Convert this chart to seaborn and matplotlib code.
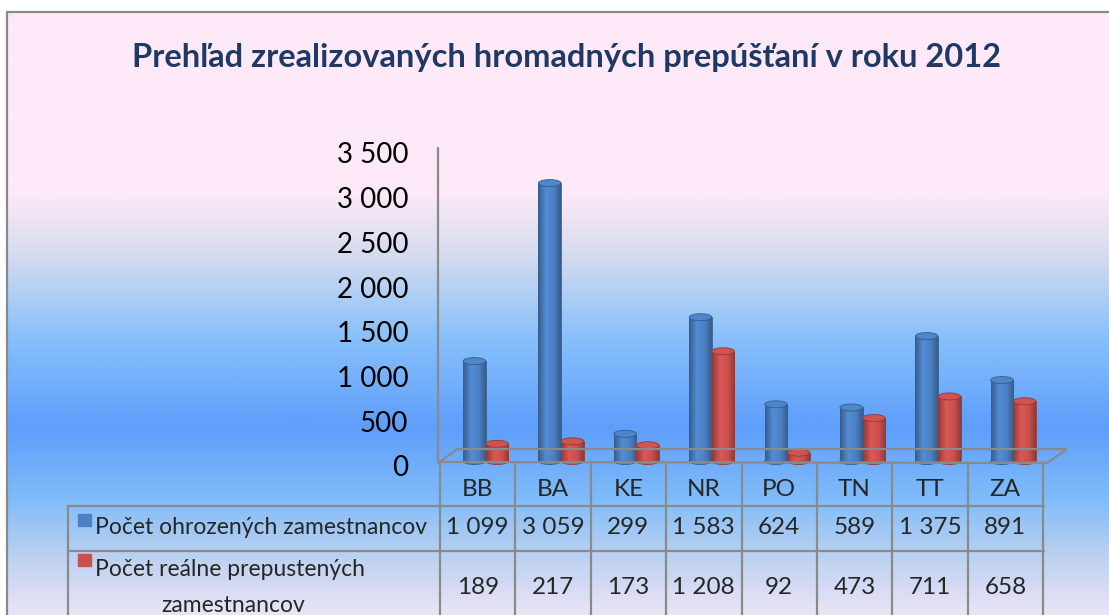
"""Prehľad zrealizovaných hromadných prepúšťaní v roku 2012 - 3D-style column chart with data table."""
import matplotlib
matplotlib.use("Agg")
import matplotlib.pyplot as plt
from matplotlib.colors import LinearSegmentedColormap, to_rgb
from matplotlib.patches import Ellipse, Polygon, Rectangle
from matplotlib.lines import Line2D
from matplotlib.transforms import blended_transform_factory
import numpy as np
import pandas as pd
import seaborn as sns

# ---- data ---------------------------------------------------------------
title = "Prehľad zrealizovaných hromadných prepúšťaní v roku 2012"
regions = ["BB", "BA", "KE", "NR", "PO", "TN", "TT", "ZA"]
ohrozeni = [1099, 3059, 299, 1583, 624, 589, 1375, 891]
prepusteni = [189, 217, 173, 1208, 92, 473, 711, 658]
series_names = ["Počet ohrozených zamestnancov", "Počet reálne prepustených zamestnancov"]
row2_lines = ["Počet reálne prepustených", "zamestnancov"]
y_ticks = [0, 500, 1000, 1500, 2000, 2500, 3000, 3500]

df = pd.DataFrame({
    "region": regions * 2,
    "series": [series_names[0]] * len(regions) + [series_names[1]] * len(regions),
    "value": ohrozeni + prepusteni,
})

# ---- style --------------------------------------------------------------
W, H = 1109, 615
sns.set_theme(style="white")
plt.rcParams["font.family"] = ["Lato", "DejaVu Sans"]
GRID = "#8a8a8a"
BLUE = "#4b80c2"
RED = "#c8504d"
NAVY = "#1f3864"


def fx(x):
    return x / W


def fy(y):
    return 1 - y / H


def fmt(v):
    return f"{v:,}".replace(",", " ")


fig = plt.figure(figsize=(W / 100, H / 100), dpi=100)

# background gradient inside the frame
bg = fig.add_axes([fx(7), 0, 1 - fx(7), fy(12)])
stops = [(0.0, "#fde9f8"), (0.30, "#fde9f8"), (0.40, "#d6dcef"),
         (0.54, "#88c0fb"), (0.69, "#5e9efb"), (0.81, "#80bcf9"),
         (0.90, "#b9d0f0"), (1.0, "#ebe3f6")]
cmap_bg = LinearSegmentedColormap.from_list("bg", stops)
bg.imshow(np.linspace(0, 1, 400).reshape(-1, 1), cmap=cmap_bg, aspect="auto",
          extent=[0, 1, 0, 1], origin="upper")
bg.set_axis_off()

# frame
fig.add_artist(Line2D([fx(7), fx(7)], [0, fy(12)], color=GRID, lw=1.6))
fig.add_artist(Line2D([fx(7), 1], [fy(12), fy(12)], color=GRID, lw=1.6))

fig.text(fx(567), fy(58), title, ha="center", va="center",
         fontsize=23.5, fontweight="bold", color=NAVY)

# ---- main plot axes (value 0 at y=461 px, 3500 at y=143 px) ------------
x0, x1 = 440, 1043
ax = fig.add_axes([fx(x0), fy(461), (x1 - x0) / W, 318 / H])
ax.patch.set_alpha(0)
sns.barplot(data=df, x="region", y="value", hue="series", order=regions,
            hue_order=series_names, palette=[BLUE, RED], width=0.6,
            saturation=1, legend=False, ax=ax)
ax.set_xlim(-0.5, len(regions) - 0.5)
ax.set_ylim(0, 3500)
ax.set_axis_off()

# floor (perspective) and vertical axis line
floor = Polygon([(fx(440), fy(462)), (fx(457), fy(449)), (fx(1067), fy(449)),
                 (fx(1047), fy(463))], closed=True, fill=False, edgecolor=GRID,
                lw=1.6, transform=fig.transFigure)
fig.add_artist(floor)
fig.add_artist(Line2D([fx(438), fx(438)], [fy(148), fy(463)], color=GRID, lw=1.6))

# cylinder look for each bar
depth = 8 / ((x1 - x0) / len(regions))  # shift towards the back, data units
px_per_unit = 318 / 3500
ell_h = 7 / px_per_unit


def shade(base):
    r, g, b = to_rgb(base)
    dark = tuple(c * 0.72 for c in (r, g, b))
    light = tuple(min(1, c * 1.1) for c in (r, g, b))
    return LinearSegmentedColormap.from_list(
        "cyl", [(0, dark), (0.35, light), (0.7, (r, g, b)), (1, dark)])


for patch in list(ax.patches):
    color = patch.get_facecolor()[:3]
    base = BLUE if np.allclose(color, to_rgb(BLUE)) else RED
    patch.set_x(patch.get_x() + depth)
    bx, bw, bh = patch.get_x(), patch.get_width(), patch.get_height()
    if bh <= 0:
        continue
    patch.set_edgecolor(tuple(c * 0.7 for c in to_rgb(base)))
    patch.set_linewidth(0.6)
    cm = shade(base)
    # rounded bottom
    ax.add_patch(Ellipse((bx + bw / 2, 0), bw, ell_h, facecolor=cm(0.5),
                         edgecolor=cm(0.0), lw=0.6, zorder=1, clip_on=False))
    im = ax.imshow(np.linspace(0, 1, 64).reshape(1, -1), cmap=cm, aspect="auto",
                   extent=[bx, bx + bw, 0, bh], zorder=2)
    im.set_clip_path(patch)
    patch.set_zorder(2)
    patch.set_facecolor("none")
    # top cap
    ax.add_patch(Ellipse((bx + bw / 2, bh), bw, ell_h, facecolor=cm(0.55),
                         edgecolor=cm(0.0), lw=0.6, zorder=3, clip_on=False))
ax.set_xlim(-0.5, len(regions) - 0.5)
ax.set_ylim(0, 3500)

# ---- value tick labels (front plane) ------------------------------------
tax = fig.add_axes([fx(438), fy(466), 0.001, (466 - 153) / H])
tax.patch.set_alpha(0)
tax.set_ylim(0, 3500)
tax.set_yticks(y_ticks)
tax.set_yticklabels([fmt(v) for v in y_ticks], fontsize=20, color="black")
tax.tick_params(axis="y", length=0, pad=21.5)
tax.set_xticks([])
for s in tax.spines.values():
    s.set_visible(False)

# ---- data table ---------------------------------------------------------
tr = blended_transform_factory(ax.transData, fig.transFigure)
lw = 1.6
edges = np.arange(len(regions) + 1) - 0.5
for e in edges:
    ax.add_line(Line2D([e, e], [0, fy(462)], transform=tr, color=GRID, lw=lw,
                       clip_on=False))
fig.add_artist(Line2D([fx(68), fx(68)], [0, fy(506)], color=GRID, lw=lw))
for yy in (506, 551):
    fig.add_artist(Line2D([fx(68), fx(1044)], [fy(yy), fy(yy)], color=GRID, lw=lw))

fs = 17.5
for i, reg in enumerate(regions):
    ax.text(i, fy(490), reg, transform=tr, ha="center", va="center", fontsize=fs)
    ax.text(i, fy(528), fmt(ohrozeni[i]), transform=tr,
            ha="center", va="center", fontsize=fs)
    ax.text(i, fy(588), fmt(prepusteni[i]), transform=tr,
            ha="center", va="center", fontsize=fs)

# row labels with legend keys
lfs = 16.5
fig.add_artist(Rectangle((fx(78), fy(526)), 13 / W, 12 / H, color=BLUE,
                         transform=fig.transFigure))
fig.text(fx(95), fy(528), series_names[0], ha="left", va="center", fontsize=lfs)
fig.add_artist(Rectangle((fx(78), fy(566)), 13 / W, 12 / H, color=RED,
                         transform=fig.transFigure))
fig.text(fx(95), fy(570), row2_lines[0], ha="left", va="center", fontsize=lfs)
fig.text(fx(233), fy(606), row2_lines[1], ha="center", va="center", fontsize=lfs)

fig.savefig("out.png", dpi=100)
